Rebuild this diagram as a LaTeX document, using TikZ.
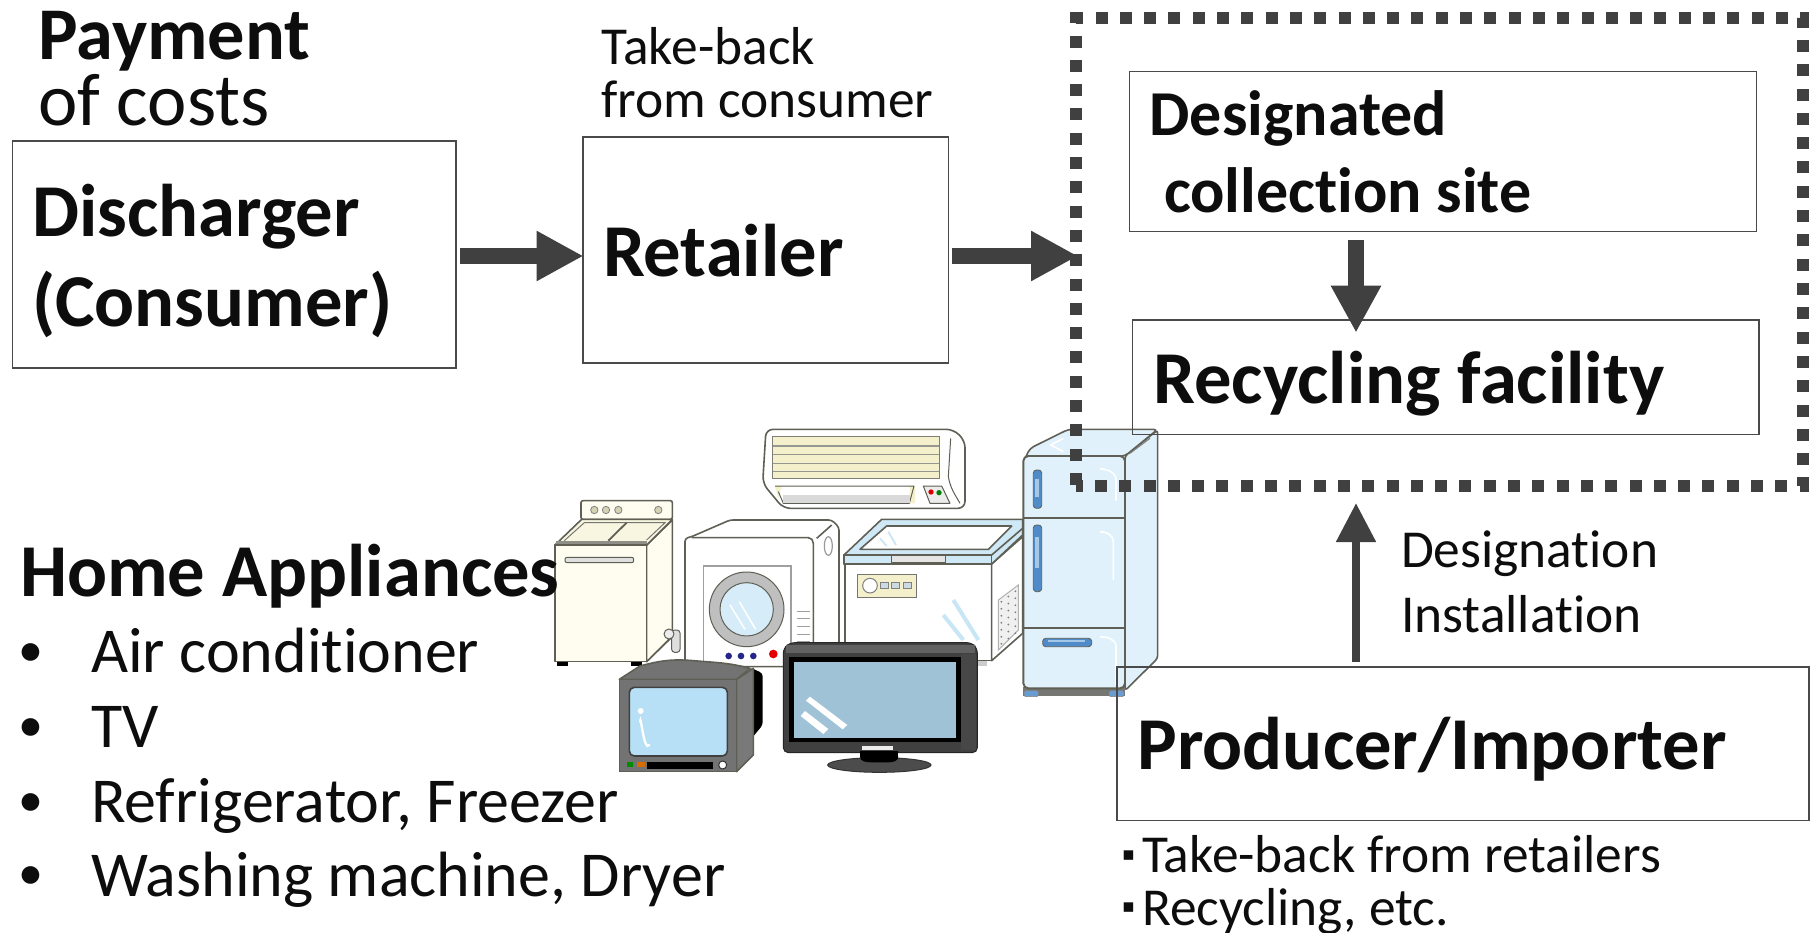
\documentclass[tikz,border=0pt]{standalone}
\usepackage{fontspec}
\setmainfont{Carlito}[Ligatures=NoCommon]
\newfontfamily\symfont{DejaVu Sans}
\usetikzlibrary{arrows.meta,calc}
\definecolor{ink}{HTML}{0D0D0D}
\definecolor{arrowgray}{HTML}{404040}
\definecolor{boxline}{HTML}{4A4A4A}
\definecolor{cream}{HTML}{FFFDF0}
\definecolor{creamdk}{HTML}{F4F0CC}
\definecolor{olive}{HTML}{5F5F55}
\definecolor{iceblue}{HTML}{E0F1FB}
\definecolor{glassblue}{HTML}{D6ECF9}
\definecolor{lidblue}{HTML}{CFE8F6}
\definecolor{glareblue}{HTML}{C8E6F5}
\definecolor{crtblue}{HTML}{B7DFF5}
\definecolor{flatblue}{HTML}{A0C2D6}
\definecolor{handleblue}{HTML}{4F8AC9}
\newcommand{\fs}[1]{\fontsize{#1}{#1}\selectfont}
\tikzset{
  txt/.style={anchor=base west,inner sep=0pt,outer sep=0pt,text=ink},
  boxnode/.style={draw=boxline,line width=1.5pt,inner sep=0pt,outer sep=0pt,rectangle},
  zonenode/.style={draw=arrowgray,line width=12pt,inner sep=0pt,outer sep=0pt,rectangle,dash pattern=on 12pt off 12.3pt,dash phase=5.4pt},
  blockarrow/.style={draw=arrowgray,line width=16pt,-{Triangle[length=47pt,width=47pt,fill=arrowgray]}},
  thinarrow/.style={draw=arrowgray,line width=8pt,-{Triangle[length=39pt,width=38pt,fill=arrowgray]}},
  app/.style={draw=olive,line width=1.6pt,line join=round},
  lite/.style={draw=gray!75,line width=1.5pt},
  crop/.style 2 args={shift={(#1,#2)},x=0.33333pt,y=-0.33333pt},
}
\begin{document}
\begin{tikzpicture}[x=1pt,y=-1pt]
\useasboundingbox (0,0) rectangle (1810,933);
\fill[white] (0,0) rectangle (1810,933);

% ---------- dryer ----------
\begin{scope}[crop={545}{490}]
\path[app,fill=white] (420,530) -- (420,160) [rounded corners=3pt] -- (420,145) -- (440,140) -- (555,90) -- (860,90) -- (882,112) -- (882,530) -- cycle;
\draw[app] (440,143) -- (790,143) to[out=0,in=90] (805,160) -- (805,530);
\draw[app] (815,145) -- (860,105);
\draw[draw=gray!80,line width=1.2pt] (850,168) ellipse (12 and 28);
\draw[lite] (475,530) -- (475,228) -- (738,228) -- (738,530);
\draw[app,fill=gray!50,line width=1pt] (605,358) circle (112);
\draw[app,fill=glassblue,line width=1pt] (605,358) circle (80);
\draw[white,line width=1.5pt] (555,345) -- (600,418) (583,335) -- (632,418);
\foreach \yy in {365,385,408,432,455} \draw[lite,line width=1pt] (755,\yy) -- (795,\yy);
\foreach \xx in {551,588,625} \fill[blue!45!black!85] (\xx,498) circle (10);
\fill[red!90!black] (685,492) circle (13);
\end{scope}

% ---------- washer ----------
\begin{scope}[crop={545}{490}]
\draw[app,fill=cream,rounded corners=2pt] (108,88) -- (108,32) -- (382,32) -- (382,88) -- cycle;
\foreach \xx in {148,183,220,340} \draw[fill=creamdk!80!olive,draw=gray,line width=.8pt] (\xx,60) circle (11);
\fill[black] (35,512) rectangle (70,527);
\fill[black] (258,512) rectangle (292,527);
\draw[app,fill=cream] (305,165) -- (382,90) -- (382,440) -- (305,515) -- cycle;
\draw[app,fill=creamdk!60!white] (30,165) -- (110,88) -- (382,88) -- (305,165) -- cycle;
\draw[gray!70!olive,line width=1pt] (58,152) -- (118,98) -- (360,98) -- (305,150);
\draw[app,line width=1.8pt] (190,152) -- (245,98);
\draw[app,fill=cream] (30,165) rectangle (305,515);
\draw[olive!70,line width=3pt] (32,158) -- (305,158);
\draw[app,fill=gray!25,rounded corners=2pt,line width=1pt] (60,202) rectangle (266,218);
\draw[app,line width=1.1pt] (305,515) -- (372,447);
\draw[app,fill=gray!25,rounded corners=3pt,line width=1pt] (380,420) rectangle (405,487);
\draw[app,fill=gray!15,line width=1pt] (372,432) circle (15);
\end{scope}

% ---------- air conditioner ----------
\begin{scope}[crop={750}{420}]
\draw[app,fill=white,rounded corners=7pt] (48,28) -- (610,28) -- (645,62) -- (645,265) -- (100,265) -- (38,190) -- cycle;
\fill[creamdk] (68,50) rectangle (568,175);
\draw[olive!80,line width=.8pt] (68,50) rectangle (568,175);
\foreach \yy in {78,104,130,155} \draw[olive!65,line width=1.2pt] (68,\yy) -- (568,\yy);
\draw[app,line width=1pt] (602,55) -- (595,170) to[out=-80,in=120] (630,250);
\fill[creamdk] (75,198) -- (95,198) -- (85,235) -- cycle;
\fill[creamdk] (480,198) -- (495,198) -- (495,250) -- (478,250) -- cycle;
\draw[app,line width=1pt] (75,198) -- (492,198) -- (478,250) -- (100,250) -- (85,215);
\fill[gray!30] (100,226) rectangle (480,248);
\draw[app,fill=gray!15,line width=1pt] (520,198) -- (575,198) -- (600,250) -- (540,250) -- cycle;
\fill[red!85!black] (543,216) circle (8);
\fill[green!50!black] (567,218) circle (8);
\end{scope}

% ---------- chest freezer ----------
\begin{scope}[crop={750}{420}]
\fill[gray!40] (680,722) rectangle (712,738);
\draw[app,fill=white] (285,432) rectangle (725,722);
\draw[app,fill=white] (725,432) -- (818,350) -- (818,640) -- (725,722) -- cycle;
\draw[gray!60,fill=gray!12,line width=1pt] (745,540) -- (805,495) -- (805,630) -- (745,690) -- cycle;
\foreach \a in {0.08,0.22,0.36,0.5,0.64,0.78,0.92} \foreach \b in {0.15,0.5,0.85}{
  \pgfmathsetmacro{\px}{745+60*\b}
  \pgfmathsetmacro{\py}{540+150*\a-45*\b}
  \fill[gray] (\px,\py) circle (3);
}
\draw[app,fill=lidblue] (282,432) -- (282,405) -- (395,298) -- (818,298) -- (818,345) -- (725,432) -- cycle;
\draw[app,fill=lidblue] (282,405) -- (725,405) -- (725,432) -- (282,432) -- cycle;
\draw[app] (725,405) -- (818,325);
\draw[app,fill=white] (330,388) -- (410,318) -- (785,318) -- (715,388) -- cycle;
\draw[app,fill=gray!20,line width=1pt] (425,405) rectangle (585,428);
\draw[glareblue,line width=1.8pt] (390,355) -- (410,378) (415,335) -- (438,375);
\draw[gray!65!olive,fill=creamdk,line width=1pt] (322,462) rectangle (498,532);
\draw[gray,fill=white,line width=1pt] (360,497) circle (22);
\foreach \xx in {392,425,460} \draw[gray,fill=iceblue!80!gray,line width=.7pt] (\xx,488) rectangle ++(23,17);
\draw[glareblue,line width=4pt] (580,585) -- (640,660) (610,540) -- (685,660);
\end{scope}

% ---------- refrigerator ----------
\begin{scope}[crop={1010}{420}]
\draw[app,fill=iceblue,rounded corners=3pt] (345,108) -- (443,30) -- (443,715) -- (345,812) -- cycle;
\draw[app,fill=iceblue,rounded corners=4pt] (40,125) -- (60,85) -- (175,28) -- (443,28) -- (345,108) -- cycle;
\fill[gray!70!olive] (40,800) rectangle (345,828);
\draw[app,fill=iceblue,line width=1.9pt,rounded corners=5pt] (40,108) rectangle (345,805);
\draw[app,line width=2pt] (40,295) -- (345,295) (40,625) -- (345,625);
\draw[gray,line width=1.1pt] (360,100) -- (420,55);
\draw[draw=olive,fill=handleblue,line width=.8pt,rounded corners=3pt] (70,150) rectangle (95,265);
\fill[iceblue!60!handleblue] (76,178) rectangle (88,232);
\draw[draw=olive,fill=handleblue,line width=.8pt,rounded corners=3pt] (70,315) rectangle (95,515);
\fill[iceblue!60!handleblue] (76,350) rectangle (88,445);
\draw[draw=olive,fill=handleblue,line width=.8pt,rounded corners=3pt] (98,655) rectangle (245,680);
\fill[iceblue!60!handleblue] (115,660) rectangle (225,667);
\draw[white,line width=1.6pt] (270,147) to[out=0,in=90] (318,180) -- (318,242);
\draw[white,line width=1.6pt] (270,335) to[out=0,in=90] (310,365) -- (310,480);
\draw[white,line width=1.6pt] (270,650) to[out=0,in=90] (318,680) -- (318,795);
\draw[white,line width=1.6pt] (160,55) -- (122,75) -- (160,95);
\draw[draw=gray,fill=handleblue!85,line width=.5pt,rounded corners=2pt] (42,812) rectangle (85,830);
\draw[draw=gray,fill=handleblue!85,line width=.5pt,rounded corners=2pt] (297,812) rectangle (342,830);
\end{scope}

% ---------- CRT television ----------
\begin{scope}[crop={610}{630}]
\fill[black,rounded corners=3pt] (420,112) -- (458,130) -- (458,285) -- (425,325) -- cycle;
\draw[app,fill=gray!90!black] (28,148) -- (90,108) to[out=15,in=175] (250,92) to[out=-5,in=165] (420,115) -- (380,148) -- cycle;
\draw[app,fill=gray!95!black] (380,148) -- (430,115) -- (430,375) -- (380,425) -- cycle;
\draw[app,fill=gray!90!black] (28,148) rectangle (380,425);
\draw[draw=black!75,fill=crtblue,line width=1.6pt,rounded corners=5pt] (58,172) rectangle (352,378);
\fill[white] (92,243) circle (9);
\draw[white,line width=2.3pt,line cap=round] (90,275) to[out=85,in=-125] (118,345);
\fill[black] (112,395) rectangle (310,417);
\fill[green!55!black] (50,396) rectangle (70,410);
\fill[orange!85!black] (82,396) rectangle (104,410);
\draw[gray!40!black,fill=white,line width=1pt] (338,405) circle (12);
\end{scope}

% ---------- flat television ----------
\begin{scope}[crop={610}{630}]
\draw[black!80,fill=black!70,line width=1pt] (808,405) ellipse (155 and 22);
\draw[black!85,fill=black!75,line width=1pt,rounded corners=5pt] (520,55) -- (540,38) -- (1085,38) -- (1102,55) -- (1102,368) -- (520,368) -- cycle;
\fill[black!62] (528,45) rectangle (1095,68);
\fill[black] (538,82) rectangle (1052,336);
\fill[black!72] (1052,72) rectangle (1098,360);
\fill[black] (750,362) rectangle (865,382);
\fill[black] (750,380) to[out=-90,in=180] (785,397) -- (835,397) to[out=0,in=-90] (865,380) -- cycle;
\fill[white!85!gray] (755,347) rectangle (850,361);
\fill[flatblue] (551,97) rectangle (1038,324);
\fill[white] (600,200) -- (712,285) -- (698,298) -- (588,212) -- cycle;
\fill[white] (585,243) -- (655,297) -- (640,312) -- (572,258) -- cycle;
\end{scope}

% ---------- boxes ----------
\node[boxnode,minimum width=443.5pt,minimum height=227pt] (discharger) at (234.25,254.5) {};
\node[boxnode,minimum width=365.5pt,minimum height=226pt] (retailer) at (765.75,250) {};
\node[zonenode,minimum width=727pt,minimum height=467.5pt] (zone) at (1439.5,252.25) {};
\node[boxnode,minimum width=627.2pt,minimum height=160pt] (site) at (1443.1,151.7) {};
\node[boxnode,minimum width=626.6pt,minimum height=114.7pt] (facility) at (1445.7,377.35) {};
\node[boxnode,minimum width=692pt,minimum height=153.7pt] (producer) at (1463,743.85) {};

% ---------- connectors ----------
\coordinate (row) at (0,256);
\coordinate (colA) at (1356,0);
\draw[blockarrow,shorten <=4pt,shorten >=-0.5pt] (discharger.east |- row) -- (retailer.west |- row);
\draw[blockarrow,shorten <=3pt,shorten >=-2pt] (retailer.east |- row) -- (zone.west |- row);
\draw[blockarrow,shorten <=8.3pt,shorten >=-12.7pt] (site.south -| colA) -- (facility.north -| colA);
\draw[thinarrow,shorten <=5pt,shorten >=17pt] (producer.north -| colA) -- (zone.south -| colA);

% ---------- texts ----------
\node[txt,font=\fs{74.4}\bfseries] (t1) at (38.5,59.5) {Payment};
\node[txt,font=\fs{74.6}] (t2) at (38,126) {of costs};
\node[txt,font=\fs{53.4}] (t3) at (601.5,64.5) {Take-back};
\node[txt,font=\fs{53.4}] (t4) at (601.5,118) {from consumer};
\node[txt,font=\fs{74.6}\bfseries] (t5) at (32.5,236.5) {Discharger};
\node[txt,font=\fs{74.6}\bfseries] (t6) at (32,326.5) {(Consumer)};
\node[txt,font=\fs{74.6}\bfseries] (t7) at (603,277) {Retailer};
\node[txt,font=\fs{64}\bfseries] (t8) at (1149.5,136) {Designated};
\node[txt,font=\fs{64}\bfseries] (t9) at (1164,213) {collection site};
\node[txt,font=\fs{74.6}\bfseries] (t10) at (1153.5,403.5) {Recycling facility};
\node[txt,font=\fs{74.6}\bfseries] (t11) at (1137.5,769) {Producer/Importer};
\node[txt,font=\fs{53.4}] (t12) at (1401,567) {Designation};
\node[txt,font=\fs{53.4}] (t13) at (1401,632) {Installation};
\node[txt,font=\fs{53.4}] (t14) at (1142,872) {Take-back from retailers};
\node[txt,font=\fs{53.4}] (t15) at (1142,925) {Recycling, etc.};
\node[txt,font=\fs{19}\symfont] (s1) at (1122,860) {▪};
\node[txt,font=\fs{19}\symfont] (s2) at (1122,912) {▪};
\node[txt,font=\fs{74.6}\bfseries] (t16) at (20,596) {Home Appliances};
\foreach \nm/\yy/\by/\lab in {a/672/666/Air conditioner,b/747/741/TV,c/822/816/{Refrigerator, Freezer},d/896/889/{Washing machine, Dryer}}{
  \node[txt,font=\fs{64}] (item\nm) at (91,\yy) {\lab};
  \node[txt,font=\fs{50}] (bul\nm) at (18,\by) {•};
}
\end{tikzpicture}
\end{document}
